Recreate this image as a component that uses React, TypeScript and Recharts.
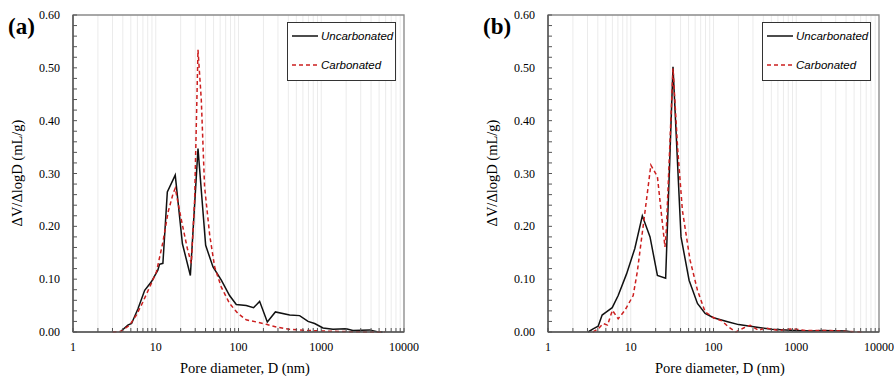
import React from "react"
import { LineChart, Line, XAxis, YAxis, CartesianGrid, ReferenceArea } from "recharts"

const seriesNames = ["Uncarbonated", "Carbonated"]
const panelLabels = ["(a)", "(b)"]
const decadeTicks = [1, 10, 100, 1000, 10000]
const xTitle = "Pore diameter, D (nm)"
const yTitle = "ΔV/ΔlogD (mL/g)"

// [pore diameter (nm), dV/dlogD (mL/g)]
const uncarbA = [
  [3.7, 0], [4.6, 0.013], [5.1, 0.016], [6.1, 0.044], [7.35, 0.079], [8.85, 0.095],
  [10.6, 0.117], [11.1, 0.128], [12.2, 0.13], [13.8, 0.265], [17.2, 0.297], [21, 0.167],
  [26.2, 0.107], [32.4, 0.347], [40.1, 0.164], [49.2, 0.123], [62, 0.098], [78, 0.069],
  [94, 0.052], [124, 0.05], [152, 0.046], [180, 0.058], [223, 0.019], [279, 0.038],
  [415, 0.032], [548, 0.031], [692, 0.02], [832, 0.016], [1050, 0.0076], [1385, 0.005],
  [2000, 0.006], [2410, 0.003], [3850, 0.004], [4850, 0], [5500, 0],
]
const carbA = [
  [3.0, 0], [3.8, 0.001], [4.84, 0.013], [5.83, 0.032], [7.0, 0.057], [8.44, 0.085],
  [10.2, 0.114], [12.2, 0.17], [14.1, 0.227], [16.2, 0.262], [17.2, 0.272], [20.4, 0.212],
  [24.1, 0.158], [26.9, 0.13], [29.5, 0.25], [32.4, 0.534], [35.5, 0.44], [38.9, 0.275],
  [44.9, 0.183], [51.5, 0.123], [62, 0.085], [78, 0.054], [98.6, 0.035], [124, 0.023],
  [164, 0.019], [217, 0.0145], [286, 0.0095], [415, 0.005], [660, 0.003], [1385, 0.0013],
  [3500, 0], [5840, 0],
]
const uncarbB = [
  [3.05, 0], [3.51, 0.006], [4.04, 0.011], [4.51, 0.032], [5.09, 0.038], [5.97, 0.046],
  [7.05, 0.069], [8.9, 0.11], [11.2, 0.158], [13.8, 0.22], [17.1, 0.18], [21, 0.107],
  [26.4, 0.102], [32.4, 0.502], [40.5, 0.18], [50.7, 0.098], [64, 0.054], [79.2, 0.035],
  [100, 0.027], [152, 0.019], [201, 0.014], [320, 0.0095], [509, 0.005], [977, 0.003],
  [1550, 0.002], [2050, 0.003], [3960, 0.002], [4770, 0],
]
const carbB = [
  [3.5, 0], [4.04, 0.006], [4.64, 0.016], [5.24, 0.013], [6.0, 0.041], [7.05, 0.025],
  [8.5, 0.041], [10.7, 0.069], [12, 0.114], [14.6, 0.218], [17.5, 0.316], [21, 0.294],
  [25.9, 0.161], [26.9, 0.193], [32.4, 0.499], [37, 0.344], [42.1, 0.23], [52.1, 0.136],
  [64, 0.079], [79.2, 0.038], [100, 0.027], [126, 0.021], [152, 0.0095], [187, 0],
  [231, 0.0076], [278, 0.0126], [351, 0.003], [423, 0.0076], [614, 0.003], [890, 0.006],
  [1290, 0.003], [2460, 0.003], [3960, 0.0013], [6300, 0],
]

const COLORS = ["#111111", "#cc1f1f"]

const toRows = (pts: number[][]) => pts.map(([d, v]) => ({ d, v }))

// every gridline position: 1,2..9,10,20..90, ... 10000
const xGridTicks = [
  ...decadeTicks.slice(0, -1).flatMap((t) => [1, 2, 3, 4, 5, 6, 7, 8, 9].map((k) => k * t)),
  10000,
]
const yTicks = Array.from({ length: 31 }, (_, i) => Math.round(i * 2) / 100)

const SERIF = "'Liberation Serif', 'Times New Roman', serif"

const XTick = ({ x, y, payload }: any) => {
  const major = decadeTicks.includes(payload.value)
  return (
    <g>
      <line x1={x} x2={x} y1={y} y2={y - 4} stroke="#555" strokeWidth={1} />
      {major && (
        <text x={x} y={y + 19} textAnchor="middle" fontSize={12} fontFamily={SERIF} fill="#000">
          {payload.value}
        </text>
      )}
    </g>
  )
}

const YTick = ({ x, y, payload }: any) => {
  const v = payload.value
  const major = Math.round(v * 100) % 10 === 0
  return (
    <g>
      <line x1={x} x2={x + 4} y1={y} y2={y} stroke="#555" strokeWidth={1} />
      {major && (
        <text x={x - 13} y={y} dy={4} textAnchor="end" fontSize={12} fontFamily={SERIF} fill="#000">
          {v.toFixed(2)}
        </text>
      )}
    </g>
  )
}

function LegendBox() {
  return (
    <div
      style={{
        position: "absolute", left: 287, top: 22, width: 107, height: 57,
        border: "1.5px solid #333", background: "#fff",
        fontFamily: "'Liberation Sans', Arial, sans-serif", fontStyle: "italic", fontSize: 11.5,
      }}
    >
      {seriesNames.map((name, i) => (
        <div key={name} style={{ position: "absolute", left: 4, top: i === 0 ? 7 : 36, display: "flex", alignItems: "center" }}>
          <svg width={26} height={10}>
            <line x1={0} x2={26} y1={5} y2={5} stroke={COLORS[i]} strokeWidth={1.5} strokeDasharray={i === 1 ? "4 3" : undefined} />
          </svg>
          <span style={{ marginLeft: 3 }}>{name}</span>
        </div>
      ))}
    </div>
  )
}

function Panel({ label, uncarb, carb, left }: { label: string; uncarb: number[][]; carb: number[][]; left: number }) {
  return (
    <div style={{ position: "absolute", left, top: 0, width: 420, height: 376 }}>
      <LineChart width={420} height={376} margin={{ top: 15, right: 16, bottom: 43, left: 72 }}>
        <CartesianGrid horizontal={false} stroke="#ebebeb" strokeWidth={1} />
        <XAxis
          type="number" dataKey="d" scale="log" domain={[1, 10000]} ticks={xGridTicks}
          interval={0} height={1} tickSize={0} tickMargin={0} tickLine={false}
          tick={<XTick />} axisLine={{ stroke: "#595959", strokeWidth: 1.5 }} allowDataOverflow
        />
        <YAxis
          type="number" domain={[0, 0.6]} ticks={yTicks} interval={0} width={1}
          tickSize={0} tickMargin={0} tickLine={false} tick={<YTick />}
          axisLine={{ stroke: "#595959", strokeWidth: 1.5 }}
        />
        <ReferenceArea x1={1} x2={10000} y1={0} y2={0.6} fill="none" stroke="#8a8a8a" strokeWidth={1.3} ifOverflow="visible" />
        <Line
          data={toRows(uncarb)} dataKey="v" name={seriesNames[0]} type="linear"
          stroke={COLORS[0]} strokeWidth={1.5} dot={false} isAnimationActive={false}
        />
        <Line
          data={toRows(carb)} dataKey="v" name={seriesNames[1]} type="linear"
          stroke={COLORS[1]} strokeWidth={1.5} strokeDasharray="4 3" dot={false} isAnimationActive={false}
        />
      </LineChart>
      <LegendBox />
      <div style={{ position: "absolute", left: 8, top: 14, fontFamily: SERIF, fontWeight: "bold", fontSize: 23 }}>
        {label}
      </div>
      <div
        style={{
          position: "absolute", left: 245, top: 360, transform: "translateX(-50%)", lineHeight: "16px",
          fontFamily: SERIF, fontSize: 14.5, whiteSpace: "nowrap",
        }}
      >
        {xTitle}
      </div>
      <div
        style={{
          position: "absolute", left: 17, top: 173, transform: "translate(-50%, -50%) rotate(-90deg)",
          fontFamily: SERIF, fontSize: 14.5, whiteSpace: "nowrap",
        }}
      >
        {yTitle}
      </div>
    </div>
  )
}

export default function App() {
  return (
    <div style={{ position: "absolute", left: 0, top: 0, width: 894, height: 376, background: "#fff", overflow: "hidden" }}>
      <Panel label={panelLabels[0]} uncarb={uncarbA} carb={carbA} left={0} />
      <Panel label={panelLabels[1]} uncarb={uncarbB} carb={carbB} left={475} />
    </div>
  )
}
